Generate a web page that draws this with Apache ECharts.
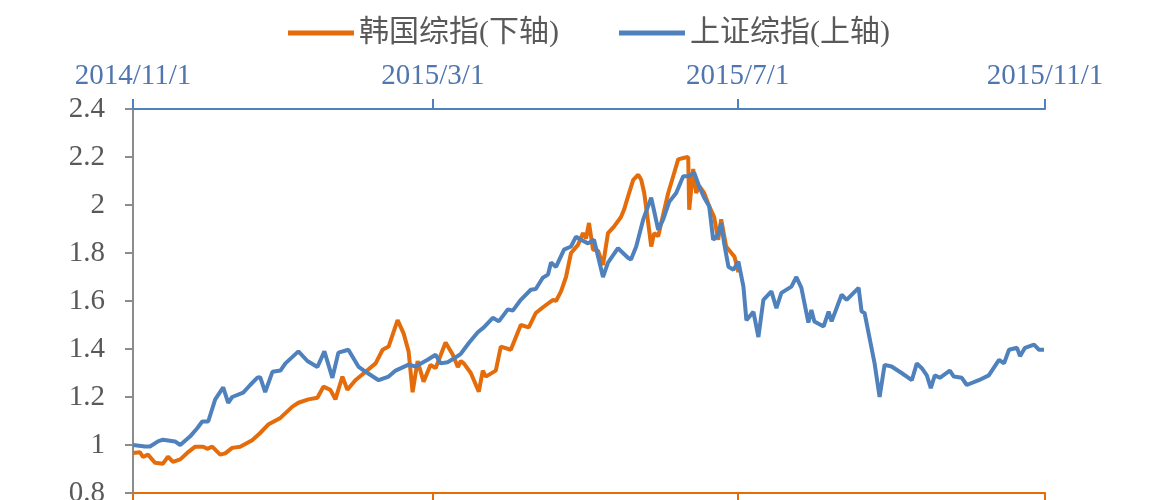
<!DOCTYPE html>
<html>
<head>
<meta charset="utf-8">
<script src="https://cdn.jsdelivr.net/npm/echarts@6/dist/echarts.min.js"></script>
<style>
html,body{margin:0;padding:0;background:#fff;}
#chart{width:1174px;height:500px;}
</style>
</head>
<body>
<div id="chart"></div>
<script>
// Top axis (上证综指) tick labels and their day offsets from 2014/11/1
var topTickLabels = ['2014/11/1', '2015/3/1', '2015/7/1', '2015/11/1'];
var tickDays = [0, 120, 242, 365];

// 上证综指 (top axis): day offset, normalized value
var shDays = [0,4.8,6.8,10.0,12.0,16.8,18.9,22.9,25.7,27.7,30.1,32.9,36.1,38.1,39.7,44.1,46.9,49.7,50.9,52.9,55.8,59.0,61.0,66.2,69.8,73.8,76.6,79.8,82.2,86.2,90.2,93.1,98.3,102.3,105.1,110.3,113.1,117.9,121.1,123.1,125.9,128.4,131.2,134.4,138.0,140.4,144.0,146.4,150.0,152.0,155.2,159.2,161.2,164.0,166.1,167.3,169.3,172.5,175.3,177.3,179.3,182.1,184.5,188.1,190.1,194.1,198.1,199.3,201.4,204.2,207.4,210.2,212.2,214.6,217.4,220.2,222.6,224.6,226.6,228.6,230.6,232.2,234.2,235.4,236.6,238.3,240.3,242.3,244.3,245.5,248.3,250.3,252.3,255.5,257.5,259.5,263.5,265.5,267.5,270.3,271.5,272.7,276.4,278.4,279.6,283.6,285.6,290.4,291.6,292.8,296.8,298.8,300.8,303.6,307.6,311.7,313.7,315.7,317.7,319.3,320.9,322.9,326.9,328.5,331.7,333.7,338.5,342.5,346.6,348.6,350.6,353.8,355.0,357.0,360.6,362.6,364.6];
var shValues = [1.00,0.994,0.994,1.015,1.022,1.015,1.00,1.036,1.07,1.098,1.098,1.19,1.24,1.176,1.20,1.218,1.25,1.28,1.283,1.22,1.305,1.31,1.34,1.39,1.35,1.325,1.39,1.28,1.385,1.397,1.327,1.305,1.27,1.285,1.31,1.335,1.327,1.355,1.376,1.34,1.345,1.36,1.38,1.425,1.47,1.49,1.53,1.515,1.565,1.56,1.605,1.647,1.65,1.697,1.71,1.76,1.742,1.814,1.827,1.868,1.855,1.84,1.855,1.70,1.76,1.82,1.78,1.773,1.827,1.94,2.03,1.897,1.94,2.013,2.05,2.12,2.12,2.135,2.077,2.03,1.995,1.855,1.876,1.925,1.84,1.743,1.73,1.764,1.66,1.52,1.555,1.45,1.605,1.64,1.57,1.634,1.66,1.70,1.655,1.51,1.563,1.515,1.494,1.556,1.515,1.626,1.605,1.655,1.556,1.55,1.34,1.20,1.334,1.327,1.30,1.27,1.34,1.32,1.29,1.237,1.29,1.28,1.31,1.285,1.28,1.25,1.27,1.29,1.355,1.34,1.397,1.405,1.37,1.405,1.418,1.397,1.397];

// 韩国综指 (bottom axis): offset in same units, normalized value
var krDays = [0,2.8,4.0,6.0,8.8,12.0,14.0,16.0,18.9,21.7,24.9,28.1,29.7,31.7,34.9,36.9,39.7,42.9,47.7,50.9,54.1,59.0,63.8,66.2,70.2,73.8,76.2,79.0,81.0,83.8,85.8,89.0,93.1,97.1,99.9,102.3,105.9,108.3,110.3,111.9,113.9,116.3,119.1,121.1,125.1,128.0,130.0,131.2,132.4,135.2,138.4,140.0,141.2,145.2,147.2,151.2,155.2,158.4,161.2,164.5,168.1,169.3,171.3,173.3,175.3,178.1,180.1,181.3,182.5,184.1,186.1,188.1,190.1,192.5,195.3,196.5,198.1,200.2,202.2,203.4,204.6,206.2,207.4,208.6,210.2,211.4,214.2,216.2,218.2,220.6,222.2,222.6,224.2,225.4,226.6,228.6,230.6,232.6,234.2,235.4,237.4,239.5,240.7,242.3];
var krValues = [0.967,0.97,0.95,0.96,0.926,0.922,0.952,0.93,0.94,0.967,0.993,0.993,0.984,0.993,0.96,0.965,0.988,0.993,1.02,1.05,1.085,1.113,1.16,1.176,1.19,1.197,1.243,1.23,1.19,1.285,1.23,1.27,1.305,1.34,1.397,1.41,1.52,1.465,1.39,1.22,1.35,1.264,1.334,1.32,1.427,1.376,1.325,1.35,1.34,1.30,1.222,1.31,1.285,1.31,1.41,1.397,1.50,1.49,1.55,1.577,1.605,1.60,1.64,1.70,1.80,1.834,1.883,1.86,1.925,1.814,1.81,1.75,1.883,1.91,1.95,1.98,2.035,2.105,2.126,2.105,2.05,1.925,1.827,1.883,1.87,1.925,2.05,2.12,2.19,2.197,2.20,1.98,2.15,2.05,2.08,2.05,1.995,1.95,1.855,1.94,1.827,1.80,1.785,1.72];

var seriesNames = ['韩国综指(下轴)', '上证综指(上轴)'];

function zip(a, b) { return a.map(function (v, i) { return [v, b[i]]; }); }

var ORANGE = '#E46C0A';
var BLUE = '#4F81BD';
var GRAY_TEXT = '#595959';

var chart = echarts.init(document.getElementById('chart'));
chart.setOption({
  animation: false,
  backgroundColor: '#ffffff',
  legend: {
    data: seriesNames,
    left: 283,
    top: 13,
    icon: 'rect',
    itemWidth: 66,
    itemHeight: 5,
    itemGap: 60,
    textStyle: { fontSize: 30, color: GRAY_TEXT, fontFamily: 'Liberation Serif, Noto Sans CJK SC' }
  },
  grid: { left: 133, right: 129, top: 109, bottom: 7, containLabel: false, outerBoundsMode: 'none' },
  xAxis: [
    {
      type: 'value', position: 'top', min: 0, max: 365,
      axisLine: { show: true, lineStyle: { color: BLUE, width: 2 } },
      axisTick: { show: true, inside: false, length: 10, customValues: tickDays, lineStyle: { color: BLUE, width: 2 } },
      axisLabel: {
        show: true, customValues: tickDays, margin: 18, fontSize: 29, color: '#4F76B0',
        fontFamily: 'Liberation Serif',
        formatter: function (v) { var i = tickDays.indexOf(v); return i >= 0 ? topTickLabels[i] : ''; }
      },
      splitLine: { show: false }
    },
    {
      type: 'value', position: 'bottom', min: 0, max: 365,
      axisLine: { show: true, onZero: false, lineStyle: { color: ORANGE, width: 2 } },
      axisTick: { show: true, length: 10, customValues: tickDays, lineStyle: { color: ORANGE, width: 2 } },
      axisLabel: { show: false },
      splitLine: { show: false }
    }
  ],
  yAxis: {
    type: 'value', min: 0.8, max: 2.4, interval: 0.2,
    axisLine: { show: true, onZero: false, lineStyle: { color: '#8C8C8C', width: 2 } },
    axisTick: { show: true, length: 8, lineStyle: { color: '#8C8C8C', width: 2 } },
    axisLabel: { margin: 28, fontSize: 29, color: GRAY_TEXT, fontFamily: 'Liberation Serif' },
    splitLine: { show: false }
  },
  series: [
    {
      name: seriesNames[0], type: 'line', xAxisIndex: 1, symbol: 'none',
      data: zip(krDays, krValues),
      lineStyle: { color: ORANGE, width: 4 }, itemStyle: { color: ORANGE }
    },
    {
      name: seriesNames[1], type: 'line', xAxisIndex: 0, symbol: 'none',
      data: zip(shDays, shValues),
      lineStyle: { color: BLUE, width: 4 }, itemStyle: { color: BLUE }
    }
  ]
});
</script>
</body>
</html>
